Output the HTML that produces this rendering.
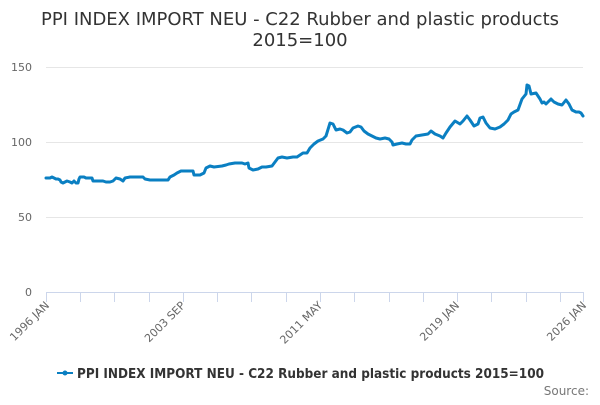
<!DOCTYPE html>
<html><head><meta charset="utf-8"><style>
body{margin:0;background:#fff;font-family:"Liberation Sans","DejaVu Sans",sans-serif}
</style></head><body>
<svg width="600" height="400" xmlns="http://www.w3.org/2000/svg" font-family="DejaVu Sans, Liberation Sans, sans-serif">
<text x="300" y="25" text-anchor="middle" font-size="18" fill="#333" textLength="518" lengthAdjust="spacingAndGlyphs">PPI INDEX IMPORT NEU - C22 Rubber and plastic products</text>
<text x="300" y="46" text-anchor="middle" font-size="18" fill="#333">2015=100</text>
<g stroke="#e6e6e6" stroke-width="1">
<line x1="46" x2="583" y1="67.5" y2="67.5"/><line x1="46" x2="583" y1="142.5" y2="142.5"/><line x1="46" x2="583" y1="217.5" y2="217.5"/>
</g>
<line x1="46" x2="583" y1="292.5" y2="292.5" stroke="#ccd6eb"/>
<g stroke="#ccd6eb">
<line x1="46.5" x2="46.5" y1="292" y2="302"/><line x1="80.5" x2="80.5" y1="292" y2="302"/><line x1="114.5" x2="114.5" y1="292" y2="302"/><line x1="149.5" x2="149.5" y1="292" y2="302"/><line x1="183.5" x2="183.5" y1="292" y2="302"/><line x1="217.5" x2="217.5" y1="292" y2="302"/><line x1="251.5" x2="251.5" y1="292" y2="302"/><line x1="286.5" x2="286.5" y1="292" y2="302"/><line x1="320.5" x2="320.5" y1="292" y2="302"/><line x1="354.5" x2="354.5" y1="292" y2="302"/><line x1="389.5" x2="389.5" y1="292" y2="302"/><line x1="423.5" x2="423.5" y1="292" y2="302"/><line x1="457.5" x2="457.5" y1="292" y2="302"/><line x1="491.5" x2="491.5" y1="292" y2="302"/><line x1="526.5" x2="526.5" y1="292" y2="302"/><line x1="560.5" x2="560.5" y1="292" y2="302"/><line x1="583.5" x2="583.5" y1="292" y2="302"/>
</g>
<g font-size="11" fill="#666" text-anchor="end">
<text x="32" y="71">150</text><text x="32" y="146">100</text><text x="32" y="221">50</text><text x="32" y="296">0</text>
</g>
<g font-size="11" fill="#666" text-anchor="end">
<text transform="translate(50,306) rotate(-45)">1996 JAN</text>
<text transform="translate(186,306) rotate(-45)">2003 SEP</text>
<text transform="translate(323,306) rotate(-45)">2011 MAY</text>
<text transform="translate(460,306) rotate(-45)">2019 JAN</text>
<text transform="translate(587,306) rotate(-45)">2026 JAN</text>
</g>
<polyline fill="none" stroke="#0a7fc2" stroke-width="3" stroke-linejoin="round" stroke-linecap="round" points="46,178 50,178 52,177 54,178 56,179 58,179 60,180 61,182 63,183 65,182 67,181 70,182 72,183 74,181 76,183 78,183 79,179 80,177 84,177 86,178 92,178 93,181 96,181 103,181 106,182 110,182 113,181 116,178 120,179 123,181 125,178 130,177 143,177 145,179 150,180 160,180 168,180 170,177 174,175 177,173 181,171 186,171 193,171 194,175 200,175 204,173 206,168 210,166 214,167 222,166 226,165 229,164 235,163 242,163 245,164 248,163 249,168 253,170 258,169 262,167 266,167 272,166 275,162 278,158 282,157 287,158 293,157 297,157 300,155 303,153 307,153 310,148 314,144 318,141 323,139 326,136 330,123 333,124 336,130 340,129 343,130 347,133 350,132 353,128 358,126 361,127 364,131 368,134 372,136 376,138 380,139 385,138 389,139 392,142 393,145 397,144 402,143 406,144 410,144 412,140 416,136 422,135 428,134 431,131 435,134 440,136 443,138 446,133 450,127 455,121 460,124 463,121 467,116 470,120 474,126 478,124 480,118 483,117 486,123 490,128 495,129 500,127 504,124 508,120 511,114 514,112 518,110 522,99 526,94 527,85 529,86 531,94 536,93 540,99 542,103 544,102 546,104 549,101 551,99 554,102 558,104 562,105 566,100 569,104 572,110 576,112 579,112 581,113 583,116"/>
<line x1="57" x2="73" y1="373" y2="373" stroke="#0a7fc2" stroke-width="2"/>
<circle cx="65" cy="373" r="2.5" fill="#0a7fc2"/>
<text x="77" y="378" font-size="13" font-weight="bold" fill="#333" textLength="467" lengthAdjust="spacingAndGlyphs">PPI INDEX IMPORT NEU - C22 Rubber and plastic products 2015=100</text>
<text x="589" y="395" text-anchor="end" font-size="12" fill="#777">Source:</text>
</svg>
</body></html>
